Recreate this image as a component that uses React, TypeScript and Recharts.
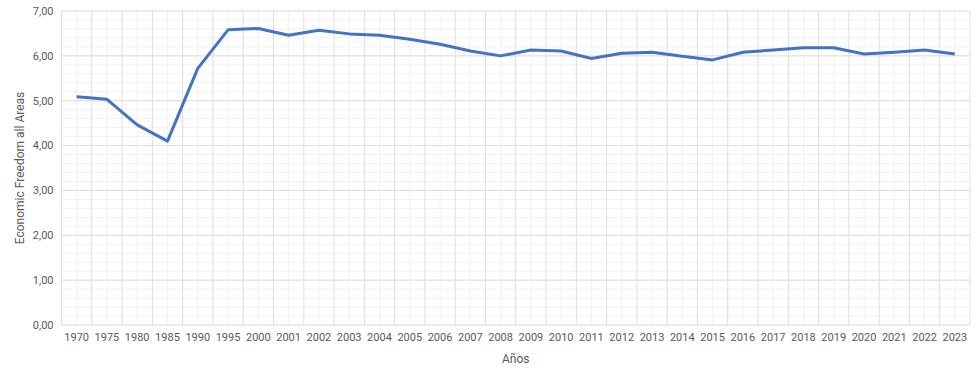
import React from 'react';
import { LineChart, Line, XAxis, YAxis, CartesianGrid } from 'recharts';

const years = ['1970','1975','1980','1985','1990','1995','2000','2001','2002','2003','2004','2005','2006','2007','2008','2009','2010','2011','2012','2013','2014','2015','2016','2017','2018','2019','2020','2021','2022','2023'];
const values = [5.09,5.03,4.46,4.10,5.72,6.58,6.61,6.46,6.57,6.49,6.46,6.37,6.26,6.11,6.00,6.13,6.11,5.94,6.06,6.08,5.99,5.91,6.08,6.13,6.18,6.18,6.04,6.08,6.13,6.04];
const yMajorTicks = [0,1,2,3,4,5,6,7];
const yMinorStep = 0.2;

const data = years.map((y, i) => ({ x: i + 0.5, year: y, value: values[i] }));
const xCenterTicks = years.map((_, i) => i + 0.5);
const xBoundaryTicks = Array.from({ length: years.length + 1 }, (_, i) => i);
const yMinorTicks = Array.from({ length: Math.round(7 / yMinorStep) + 1 }, (_, i) => Math.round(i * yMinorStep * 10) / 10);

const FONT = 'Roboto, "Noto Sans", sans-serif';
const TEXT = '#595959';

const fmtY = (v: number) => v.toFixed(2).replace('.', ',');
const fmtX = (v: number) => years[Math.floor(v)] ?? '';

export default function App() {
  return (
    <div style={{ position: 'absolute', left: 0, top: 0, width: 978, height: 378, background: '#fff' }}>
      <LineChart width={978} height={378} data={data} margin={{ top: 11, right: 8, bottom: 0, left: 0 }}>
        <CartesianGrid
          xAxisId="main"
          yAxisId="main"
          {...({ horizontalValues: yMinorTicks, verticalValues: xCenterTicks } as any)}
          stroke="#F2F2F2"
          strokeWidth={1}
        />
        <CartesianGrid
          xAxisId="main"
          yAxisId="main"
          {...({ horizontalValues: yMajorTicks, verticalValues: xBoundaryTicks } as any)}
          stroke="#DEDEDE"
          strokeWidth={1}
        />
        <XAxis
          xAxisId="main"
          type="number"
          dataKey="x"
          domain={[0, years.length]}
          ticks={xCenterTicks}
          interval={0}
          tickFormatter={fmtX}
          axisLine={false}
          tickLine={false}
          height={53}
          tick={{ fill: TEXT, fontSize: 11, fontFamily: FONT }}
          label={{
            content: (p: any) => {
              const vb = p.viewBox || {};
              return (
                <text x={vb.x + vb.width / 2} y={vb.y + 38} textAnchor="middle" fill={TEXT} fontSize={12} fontFamily={FONT}>
                  Años
                </text>
              );
            },
          }}
        />
        <YAxis
          yAxisId="main"
          type="number"
          domain={[0, 7]}
          ticks={yMajorTicks}
          interval={0}
          tickFormatter={fmtY}
          axisLine={false}
          tickLine={false}
          width={61.5}
          tickMargin={2}
          tick={{ fill: TEXT, fontSize: 11, fontFamily: FONT }}
          label={{
            content: (p: any) => {
              const vb = p.viewBox || {};
              const cx = vb.x + 20;
              const cy = vb.y + vb.height / 2;
              return (
                <text x={cx} y={cy} transform={`rotate(-90, ${cx}, ${cy})`} textAnchor="middle" dominantBaseline="central" fill={TEXT} fontSize={12} fontFamily={FONT}>
                  Economic Freedom all Areas
                </text>
              );
            },
          }}
        />
        <Line
          xAxisId="main"
          yAxisId="main"
          type="linear"
          dataKey="value"
          stroke="#4472C4"
          strokeWidth={3}
          dot={false}
          activeDot={false}
          strokeLinejoin="round"
          isAnimationActive={false}
        />
      </LineChart>
    </div>
  );
}
